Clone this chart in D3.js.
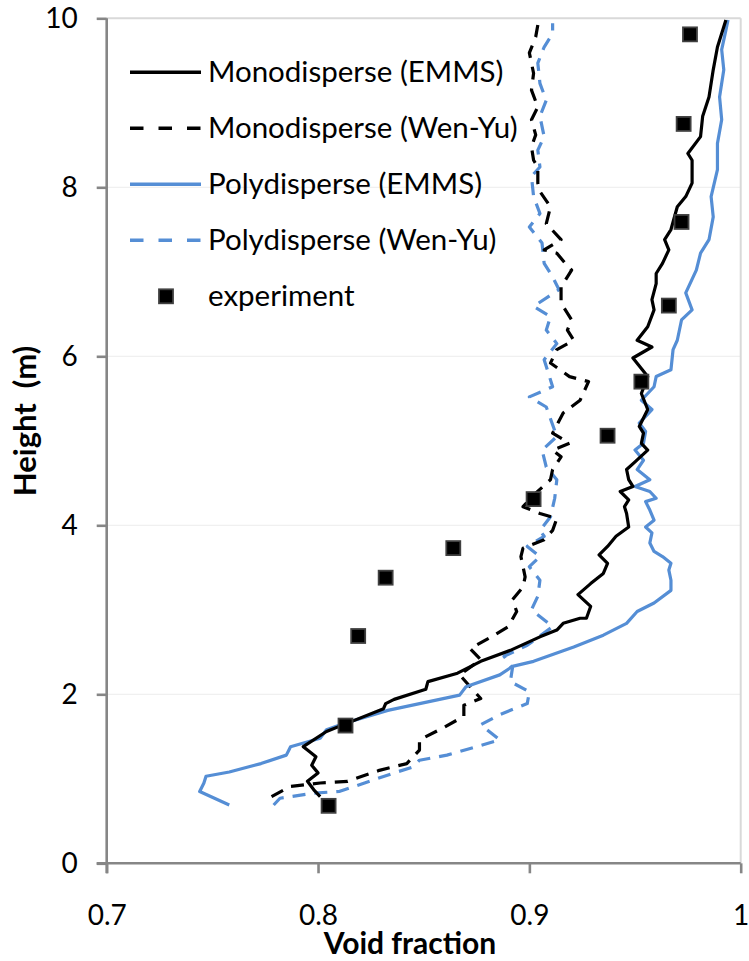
<!DOCTYPE html>
<html>
<head>
<meta charset="utf-8">
<script src="https://cdn.jsdelivr.net/npm/d3@7"></script>
<style>
  html, body { margin: 0; padding: 0; background: #fff; }
  svg { display: block; }
  text { font-family: Lato, "Open Sans", sans-serif; fill: #000; }
</style>
</head>
<body>
<svg id="chart" width="749" height="961"></svg>
<script>
// ---------- data: [void fraction, height (m)] ----------
const monoEMMS = [
  [0.801,0.79],[0.798,0.87],[0.795,0.97],[0.800,1.07],[0.797,1.16],[0.799,1.26],[0.795,1.34],[0.793,1.38],
  [0.804,1.56],[0.813,1.65],[0.831,1.83],[0.832,1.89],[0.836,1.94],[0.851,2.06],[0.852,2.15],[0.866,2.25],
  [0.877,2.39],[0.891,2.52],[0.905,2.68],[0.913,2.76],[0.916,2.84],[0.924,2.90],[0.927,2.90],[0.929,3.04],
  [0.923,3.18],[0.929,3.31],[0.935,3.43],[0.937,3.55],[0.933,3.65],[0.937,3.75],[0.941,3.87],[0.947,3.98],
  [0.946,4.14],[0.945,4.22],[0.947,4.30],[0.943,4.40],[0.949,4.46],[0.947,4.54],[0.946,4.66],[0.950,4.75],
  [0.956,4.89],[0.953,4.97],[0.954,5.09],[0.952,5.17],[0.956,5.37],[0.953,5.56],[0.956,5.76],[0.949,5.98],
  [0.958,6.11],[0.951,6.19],[0.956,6.35],[0.959,6.55],[0.958,6.67],[0.960,6.86],[0.960,6.98],[0.963,7.10],
  [0.966,7.26],[0.964,7.38],[0.967,7.50],[0.970,7.77],[0.974,7.89],[0.977,8.05],[0.977,8.32],[0.975,8.40],
  [0.981,8.60],[0.982,8.84],[0.985,9.07],[0.987,9.39],[0.989,9.66],[0.992,9.90],[0.993,9.98]
];
const monoWenYu = [
  [0.778,0.79],[0.787,0.91],[0.801,0.95],[0.814,0.97],[0.829,1.10],[0.842,1.18],[0.848,1.34],[0.848,1.46],
  [0.859,1.60],[0.869,1.74],[0.869,1.87],[0.877,1.95],[0.872,2.09],[0.867,2.23],[0.877,2.41],[0.872,2.54],
  [0.882,2.68],[0.890,2.80],[0.894,2.98],[0.892,3.12],[0.897,3.27],[0.898,3.39],[0.897,3.51],[0.896,3.63],
  [0.897,3.73],[0.907,3.83],[0.911,3.94],[0.913,4.08],[0.905,4.14],[0.897,4.22],[0.903,4.38],[0.910,4.54],
  [0.911,4.66],[0.915,4.81],[0.911,4.89],[0.919,4.97],[0.911,5.09],[0.916,5.33],[0.924,5.48],[0.928,5.70],
  [0.919,5.76],[0.910,5.92],[0.913,6.08],[0.921,6.19],[0.918,6.31],[0.920,6.43],[0.915,6.63],[0.915,6.82],
  [0.920,7.02],[0.917,7.10],[0.913,7.22],[0.907,7.26],[0.915,7.38],[0.908,7.57],[0.910,7.77],[0.905,7.95],
  [0.904,8.05],[0.904,8.24],[0.902,8.32],[0.901,8.48],[0.903,8.62],[0.901,8.80],[0.904,8.95],[0.901,9.15],
  [0.902,9.35],[0.900,9.59],[0.903,9.78],[0.904,9.92]
];
const polyEMMS = [
  [0.758,0.69],[0.744,0.85],[0.746,0.95],[0.747,1.03],[0.758,1.08],[0.773,1.18],[0.785,1.28],[0.787,1.38],
  [0.801,1.48],[0.804,1.58],[0.813,1.66],[0.833,1.81],[0.867,1.99],[0.870,2.09],[0.886,2.23],[0.892,2.33],
  [0.902,2.39],[0.921,2.56],[0.935,2.70],[0.946,2.84],[0.951,2.98],[0.959,3.08],[0.967,3.23],[0.967,3.35],
  [0.966,3.47],[0.967,3.55],[0.963,3.63],[0.959,3.69],[0.957,3.79],[0.958,3.91],[0.955,3.98],[0.959,4.06],
  [0.957,4.18],[0.955,4.28],[0.960,4.32],[0.957,4.40],[0.950,4.46],[0.957,4.54],[0.951,4.66],[0.954,4.77],
  [0.950,4.89],[0.954,4.97],[0.955,5.11],[0.952,5.21],[0.958,5.37],[0.953,5.48],[0.959,5.64],[0.960,5.76],
  [0.967,5.84],[0.968,6.08],[0.970,6.19],[0.972,6.43],[0.977,6.55],[0.974,6.75],[0.979,7.02],[0.981,7.22],
  [0.985,7.38],[0.987,7.65],[0.986,7.89],[0.989,8.21],[0.989,8.52],[0.991,8.80],[0.990,9.07],[0.992,9.39],
  [0.991,9.63],[0.993,9.86],[0.994,9.98]
];
const polyWenYu = [
  [0.779,0.69],[0.782,0.77],[0.798,0.83],[0.810,0.85],[0.822,0.95],[0.836,1.07],[0.845,1.14],[0.848,1.22],
  [0.861,1.28],[0.886,1.46],[0.877,1.64],[0.886,1.76],[0.899,1.89],[0.900,2.03],[0.891,2.15],[0.892,2.31],
  [0.888,2.45],[0.899,2.58],[0.911,2.80],[0.901,3.00],[0.904,3.16],[0.905,3.35],[0.900,3.51],[0.905,3.63],
  [0.899,3.75],[0.907,3.87],[0.905,3.94],[0.910,4.10],[0.912,4.32],[0.913,4.54],[0.908,4.69],[0.906,4.89],
  [0.913,5.05],[0.908,5.40],[0.900,5.52],[0.911,5.64],[0.907,5.96],[0.913,6.15],[0.908,6.31],[0.910,6.47],
  [0.902,6.59],[0.914,6.79],[0.911,6.94],[0.907,7.10],[0.906,7.34],[0.900,7.53],[0.905,7.69],[0.902,7.89],
  [0.901,8.13],[0.905,8.24],[0.904,8.44],[0.907,8.60],[0.905,8.84],[0.908,9.03],[0.905,9.23],[0.904,9.47],
  [0.907,9.66],[0.911,9.82],[0.911,9.94]
];
const experiment = [
  [0.805,0.68],[0.813,1.63],[0.819,2.69],[0.832,3.38],[0.864,3.73],[0.902,4.31],
  [0.937,5.06],[0.953,5.70],[0.966,6.60],[0.972,7.59],[0.973,8.75],[0.976,9.81]
];
const xTicks = [0.7, 0.8, 0.9, 1.0];
const yTicks = [0, 2, 4, 6, 8, 10];
const seriesNames = ["Monodisperse (EMMS)", "Monodisperse (Wen-Yu)", "Polydisperse (EMMS)", "Polydisperse (Wen-Yu)", "experiment"];
const xTitle = "Void fraction";
const yTitle = "Height  (m)";

// ---------- layout ----------
const W = 749, H = 961;
const m = {left: 106.7, top: 18.3, right: 749 - 740.7, bottom: 961 - 863.3};
const iw = W - m.left - m.right, ih = H - m.top - m.bottom;
const BLUE = "#558ED5";
const AXIS = "#868686";

const svg = d3.select("#chart");
const g = svg.append("g").attr("transform", `translate(${m.left},${m.top})`);

const x = d3.scaleLinear().domain([0.7, 1.0]).range([0, iw]);
const y = d3.scaleLinear().domain([0, 10]).range([ih, 0]);

// gridlines
g.append("g").selectAll("line").data(yTicks.filter(d => d > 0 && d < 10)).join("line")
  .attr("x1", 0).attr("x2", iw).attr("y1", d => y(d)).attr("y2", d => y(d))
  .attr("stroke", "#f0f0f0").attr("stroke-width", 1.2);
// top & right border
g.append("line").attr("x1", 0).attr("x2", iw).attr("y1", y(10)).attr("y2", y(10))
  .attr("stroke", "#d9d9d9").attr("stroke-width", 2);
g.append("line").attr("x1", x(1)).attr("x2", x(1)).attr("y1", 0).attr("y2", ih)
  .attr("stroke", "#d9d9d9").attr("stroke-width", 2);

// clip
svg.append("defs").append("clipPath").attr("id", "clip")
  .append("rect").attr("x", 0).attr("y", 0).attr("width", iw).attr("height", ih);

const line = d3.line().x(d => x(d[0])).y(d => y(d[1]));
const series = [
  {data: monoEMMS, color: "#000", dash: null},
  {data: monoWenYu, color: "#000", dash: "13,9"},
  {data: polyEMMS, color: BLUE, dash: null},
  {data: polyWenYu, color: BLUE, dash: "13,9"}
];
const plot = g.append("g").attr("clip-path", "url(#clip)");
[3, 1, 2, 0].forEach(i => {
  const s = series[i];
  plot.append("path").datum(s.data).attr("d", line)
    .attr("fill", "none").attr("stroke", s.color).attr("stroke-width", 3.2)
    .attr("stroke-linejoin", "round")
    .attr("stroke-dasharray", s.dash);
});
plot.selectAll("rect.exp").data(experiment).join("rect").attr("class", "exp")
  .attr("x", d => x(d[0]) - 7).attr("y", d => y(d[1]) - 7)
  .attr("width", 14).attr("height", 14)
  .attr("fill", "#000").attr("stroke", "#404040").attr("stroke-width", 1.8);

// axes
const yAxis = g.append("g").call(d3.axisLeft(y).tickValues(yTicks).tickFormat(d3.format("d"))
  .tickSize(10).tickSizeOuter(0).tickPadding(19));
const xAxis = g.append("g").attr("transform", `translate(0,${ih})`)
  .call(d3.axisBottom(x).tickValues(xTicks).tickFormat(d => d === 1 ? "1" : d3.format(".1f")(d))
  .tickSize(10).tickSizeOuter(0).tickPadding(32));
[yAxis, xAxis].forEach(a => {
  a.select(".domain").attr("stroke", AXIS).attr("stroke-width", 2.6);
  a.selectAll(".tick line").attr("stroke", AXIS).attr("stroke-width", 2.6);
  a.selectAll(".tick text").attr("font-family", "Lato, sans-serif").attr("font-size", 28).attr("fill", "#000");
});
yAxis.select(".domain").attr("d", `M0,${ih + 10}V0`);
xAxis.select(".domain").attr("d", `M-10,0H${iw}`);

// titles
svg.append("text").attr("x", 410).attr("y", 954).attr("text-anchor", "middle")
  .attr("font-size", 30).attr("font-weight", "bold").text(xTitle);
svg.append("text").attr("transform", "translate(36,421) rotate(-90)").attr("text-anchor", "middle")
  .attr("font-size", 31).attr("font-weight", "bold").style("white-space", "pre").text(yTitle);

// legend
const lg = svg.append("g");
const rowY = [72.3, 128.3, 184.3, 240.3, 296.3];
const lx0 = 130, lx1 = 201, tx = 208;
seriesNames.forEach((name, i) => {
  if (i < 4) {
    const s = series[i];
    lg.append("line").attr("x1", lx0).attr("x2", lx1).attr("y1", rowY[i]).attr("y2", rowY[i])
      .attr("stroke", s.color).attr("stroke-width", 3.4)
      .attr("stroke-dasharray", s.dash ? "13.5,15" : null);
  } else {
    lg.append("rect").attr("x", 166 - 7).attr("y", rowY[i] - 7).attr("width", 14).attr("height", 14)
      .attr("fill", "#000").attr("stroke", "#404040").attr("stroke-width", 1.8);
  }
  lg.append("text").attr("x", tx).attr("y", rowY[i] + 10).attr("font-size", 29.5).text(name);
});
</script>
</body>
</html>
